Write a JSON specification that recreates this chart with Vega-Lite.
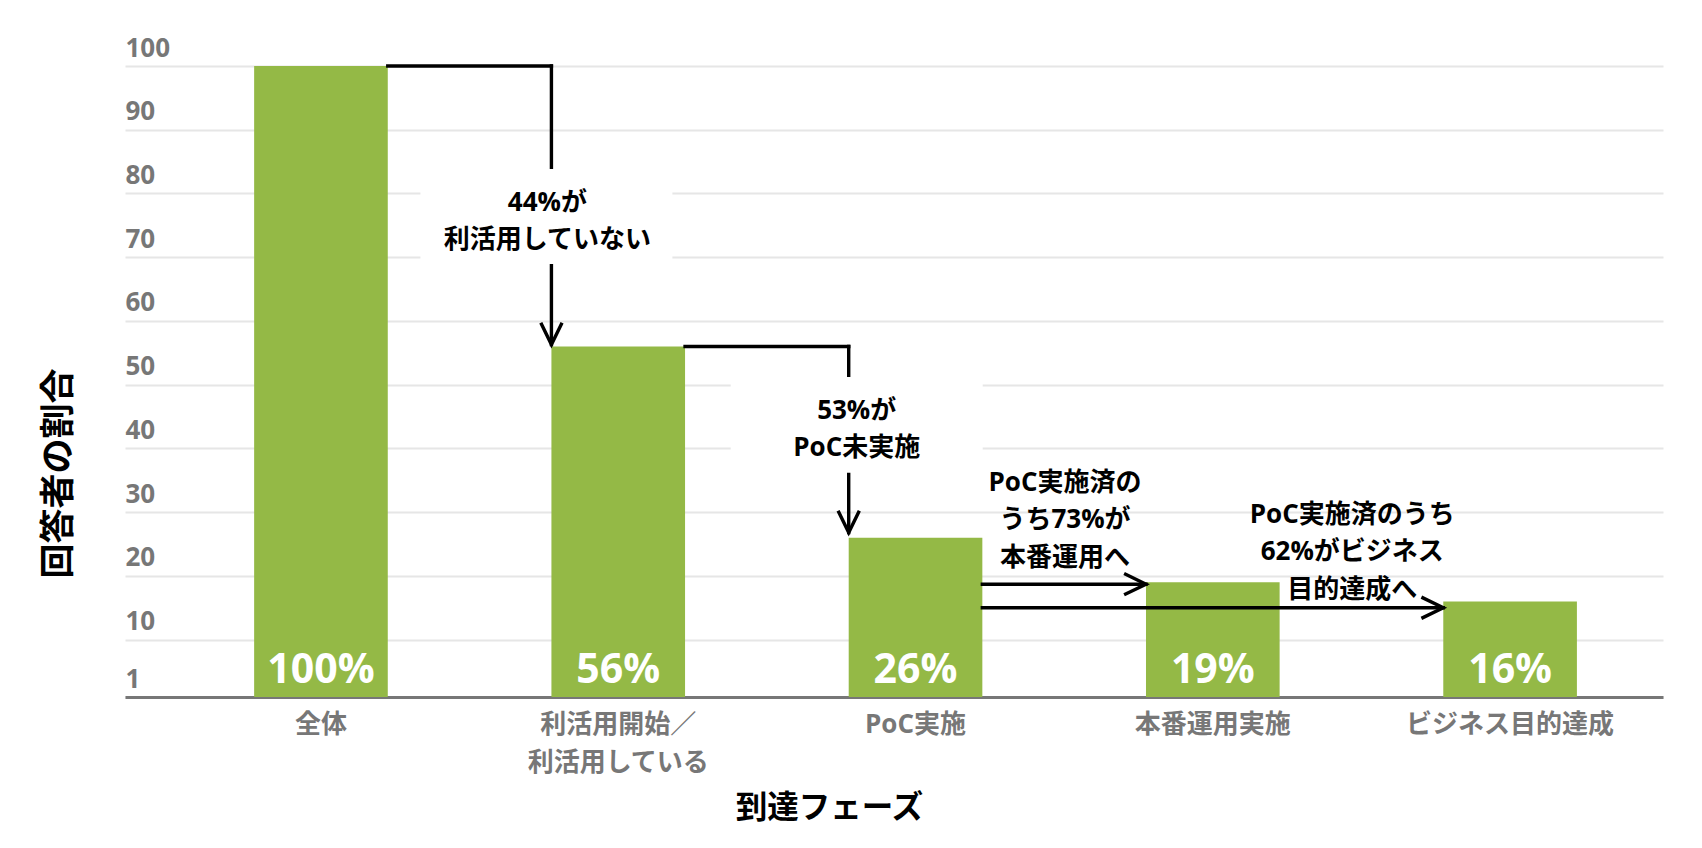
{
  "$schema": "https://vega.github.io/schema/vega-lite/v6.json",
  "width": 1538,
  "height": 631,
  "autosize": {"type": "none"},
  "padding": {"left": 125, "top": 66, "right": 39, "bottom": 151},
  "background": "white",
  "config": {
    "view": {"stroke": null},
    "font": "Open Sans, Noto Sans CJK JP"
  },
  "datasets": {
    "bars": [
      {"phase": "全体", "pct": 100, "label": "100%"},
      {"phase": "利活用開始／利活用している", "pct": 56, "label": "56%"},
      {"phase": "PoC実施", "pct": 26, "label": "26%"},
      {"phase": "本番運用実施", "pct": 19, "label": "19%"},
      {"phase": "ビジネス目的達成", "pct": 16, "label": "16%"}
    ],
    "hconn": [
      {"phase": "全体", "to": "利活用開始／利活用している", "pct": 100},
      {"phase": "利活用開始／利活用している", "to": "PoC実施", "pct": 56},
      {"phase": "PoC実施", "to": "本番運用実施", "pct": 18.7},
      {"phase": "PoC実施", "to": "ビジネス目的達成", "pct": 15}
    ],
    "vconn": [
      {"phase": "利活用開始／利活用している", "pct": 100, "end": 56.3},
      {"phase": "PoC実施", "pct": 56, "end": 26.8}
    ],
    "down": [
      {"phase": "利活用開始／利活用している", "pct": 56.3},
      {"phase": "PoC実施", "pct": 26.8}
    ],
    "right": [
      {"phase": "本番運用実施", "pct": 18.7},
      {"phase": "ビジネス目的達成", "pct": 15}
    ],
    "note1": [{"phase": "利活用開始／利活用している", "box": 76.4, "pct": 78.5, "text": ["44%が", "利活用していない"]}],
    "note2": [{"phase": "PoC実施", "box": 43.7, "pct": 45.9, "text": ["53%が", "PoC未実施"]}],
    "note3": [{"phase": "本番運用実施", "pct": 34.6, "text": ["PoC実施済の", "うち73%が", "本番運用へ"]}],
    "note4": [{"phase": "ビジネス目的達成", "pct": 29.6, "text": ["PoC実施済のうち", "62%がビジネス", "目的達成へ"]}]
  },
  "layer": [
    {
      "data": {"name": "bars"},
      "mark": {"type": "bar", "color": "#94b946"},
      "encoding": {
        "x": {
          "field": "phase",
          "type": "nominal",
          "scale": {
            "domain": ["全体", "利活用開始／利活用している", "PoC実施", "本番運用実施", "ビジネス目的達成"],
            "paddingInner": 0.5505,
            "paddingOuter": 0.362,
            "align": 0.6
          },
          "axis": {
            "title": "到達フェーズ",
            "titleFontSize": 31.5,
            "titleFontWeight": "bold",
            "titleColor": "black",
            "titleX": 704,
            "titleY": 111,
            "titleBaseline": "middle",
            "titleAlign": "center",
            "labelAngle": 0,
            "labelColor": "#777777",
            "labelFontSize": 26,
            "labelFontWeight": "bold",
            "labelPadding": 14,
            "labelBaseline": "top",
            "labelLineHeight": 38,
            "labelLimit": 400,
            "labelExpr": "datum.value == '利活用開始／利活用している' ? ['利活用開始／', '利活用している'] : datum.value",
            "ticks": false,
            "domainColor": "#777777",
            "domainWidth": 3,
            "grid": false
          }
        },
        "y": {
          "field": "pct",
          "type": "quantitative",
          "scale": {"domain": [1, 100], "zero": false, "nice": false},
          "axis": {
            "title": "回答者の割合",
            "titleFontSize": 35,
            "titleFontWeight": "bold",
            "titleColor": "black",
            "titleX": -67,
            "titleY": 407,
            "titleAngle": -90,
            "titleBaseline": "middle",
            "titleAlign": "center",
            "values": [1, 10, 20, 30, 40, 50, 60, 70, 80, 90, 100],
            "domain": false,
            "ticks": false,
            "grid": true,
            "gridColor": "#e6e6e6",
            "gridWidth": 2,
            "labelAlign": "left",
            "labelPadding": 0,
            "labelBaseline": "alphabetic",
            "labelOffset": -10,
            "labelColor": "#777777",
            "labelFontSize": 26,
            "labelFontWeight": "bold",
            "labelFlush": false,
            "labelOverlap": false
          }
        },
        "y2": {"datum": 1}
      }
    },
    {
      "data": {"name": "bars"},
      "mark": {"type": "text", "color": "white", "fontSize": 41, "fontWeight": "bold", "baseline": "alphabetic", "dy": -14},
      "encoding": {
        "x": {"field": "phase", "type": "nominal", "bandPosition": 0.5},
        "y": {"datum": 1},
        "text": {"field": "label", "type": "nominal"}
      }
    },
    {
      "data": {"name": "hconn"},
      "mark": {"type": "rule", "color": "black", "strokeWidth": 3.4, "strokeCap": "square"},
      "encoding": {
        "x": {"field": "phase", "type": "nominal", "bandPosition": 1},
        "x2": {"field": "to", "bandPosition": 0},
        "y": {"field": "pct", "type": "quantitative"}
      }
    },
    {
      "data": {"name": "vconn"},
      "mark": {"type": "rule", "color": "black", "strokeWidth": 3.4, "strokeCap": "square"},
      "encoding": {
        "x": {"field": "phase", "type": "nominal", "bandPosition": 0},
        "y": {"field": "pct", "type": "quantitative"},
        "y2": {"field": "end"}
      }
    },
    {
      "data": {"name": "down"},
      "mark": {"type": "point", "shape": "M-0.85,-1.75L0,0L0.85,-1.75", "size": 625, "filled": false, "stroke": "black", "strokeWidth": 3.4, "opacity": 1},
      "encoding": {
        "x": {"field": "phase", "type": "nominal", "bandPosition": 0},
        "y": {"field": "pct", "type": "quantitative"}
      }
    },
    {
      "data": {"name": "right"},
      "mark": {"type": "point", "shape": "M-1.75,-0.85L0,0L-1.75,0.85", "size": 625, "filled": false, "stroke": "black", "strokeWidth": 3.4, "opacity": 1},
      "encoding": {
        "x": {"field": "phase", "type": "nominal", "bandPosition": 0},
        "y": {"field": "pct", "type": "quantitative"}
      }
    },
    {
      "data": {"name": "note1"},
      "mark": {"type": "point", "shape": "M-1,-0.377H1V0.377H-1Z", "size": 63504, "filled": true, "fill": "white", "strokeWidth": 0, "opacity": 1, "xOffset": -5},
      "encoding": {
        "x": {"field": "phase", "type": "nominal", "bandPosition": 0},
        "y": {"field": "box", "type": "quantitative"}
      }
    },
    {
      "data": {"name": "note2"},
      "mark": {"type": "point", "shape": "M-1,-0.38H1V0.38H-1Z", "size": 63504, "filled": true, "fill": "white", "strokeWidth": 0, "opacity": 1, "xOffset": 8},
      "encoding": {
        "x": {"field": "phase", "type": "nominal", "bandPosition": 0},
        "y": {"field": "box", "type": "quantitative"}
      }
    },
    {
      "data": {"name": "note1"},
      "mark": {"type": "text", "color": "black", "fontSize": 26, "fontWeight": "bold", "lineHeight": 37, "baseline": "middle", "dx": -4},
      "encoding": {
        "x": {"field": "phase", "type": "nominal", "bandPosition": 0},
        "y": {"field": "pct", "type": "quantitative"},
        "text": {"field": "text"}
      }
    },
    {
      "data": {"name": "note2"},
      "mark": {"type": "text", "color": "black", "fontSize": 26, "fontWeight": "bold", "lineHeight": 37, "baseline": "middle", "dx": 8},
      "encoding": {
        "x": {"field": "phase", "type": "nominal", "bandPosition": 0},
        "y": {"field": "pct", "type": "quantitative"},
        "text": {"field": "text"}
      }
    },
    {
      "data": {"name": "note3"},
      "mark": {"type": "text", "color": "black", "fontSize": 26, "fontWeight": "bold", "lineHeight": 37.5, "baseline": "middle", "dx": -81},
      "encoding": {
        "x": {"field": "phase", "type": "nominal", "bandPosition": 0},
        "y": {"field": "pct", "type": "quantitative"},
        "text": {"field": "text"}
      }
    },
    {
      "data": {"name": "note4"},
      "mark": {"type": "text", "color": "black", "fontSize": 26, "fontWeight": "bold", "lineHeight": 37.5, "baseline": "middle", "dx": -91},
      "encoding": {
        "x": {"field": "phase", "type": "nominal", "bandPosition": 0},
        "y": {"field": "pct", "type": "quantitative"},
        "text": {"field": "text"}
      }
    }
  ]
}
